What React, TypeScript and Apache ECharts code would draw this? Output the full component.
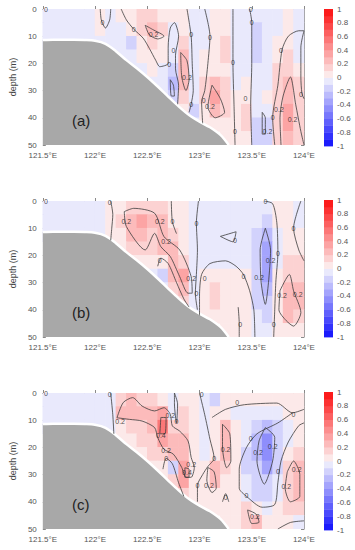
import React, { useEffect, useRef } from "react";
import * as echarts from "echarts";

const N = null;

// cell centres of the gridded field
const lonCenters = [121.55, 121.65, 121.75, 121.85, 121.95, 122.05, 122.15, 122.25, 122.35, 122.45, 122.55, 122.65, 122.75, 122.85, 122.95, 123.05, 123.15, 123.25, 123.35, 123.45, 123.55, 123.65, 123.75, 123.85, 123.95];
const depthCenters = [2.5, 7.5, 12.5, 17.5, 22.5, 27.5, 32.5, 37.5, 42.5, 47.5];

const fieldA = [
  [-0.05, -0.05, -0.05, -0.05, -0.05, 0.05, -0.03, 0.02, 0.08, 0.1, 0.12, 0.08, 0.03, 0.05, -0.05, -0.03, 0.05, 0.08, -0.03, -0.05, -0.08, -0.05, -0.03, 0.02, -0.03],
  [-0.05, -0.05, -0.05, -0.05, -0.05, 0.03, -0.03, -0.02, 0.08, 0.15, 0.22, 0.12, -0.03, 0.08, -0.05, -0.03, 0.05, 0.08, -0.02, -0.05, -0.1, -0.05, -0.02, 0.03, -0.02],
  [-0.05, -0.05, -0.05, -0.05, -0.05, -0.05, -0.05, -0.05, -0.12, 0.05, 0.15, 0.08, -0.05, 0.12, -0.03, -0.02, 0.05, 0.12, -0.02, -0.05, -0.12, -0.05, 0.05, 0.08, -0.05],
  [N, N, N, N, N, N, N, -0.05, -0.08, 0.03, 0.08, 0.03, -0.03, 0.2, -0.03, 0.02, 0.05, 0.1, -0.02, -0.05, -0.1, -0.05, 0.08, 0.12, -0.03],
  [N, N, N, N, N, N, N, N, -0.05, -0.03, 0.02, -0.05, -0.1, 0.25, -0.03, 0.03, 0.05, 0.05, -0.02, -0.03, -0.08, -0.03, 0.1, 0.18, 0.05],
  [N, N, N, N, N, N, N, N, N, N, -0.05, -0.08, -0.3, 0.25, -0.05, 0.1, 0.22, 0.1, -0.02, 0.02, -0.05, -0.03, 0.12, 0.25, 0.1],
  [N, N, N, N, N, N, N, N, N, N, N, -0.05, -0.1, 0.12, -0.08, 0.12, 0.3, 0.15, 0.02, 0.08, -0.03, 0.02, 0.12, 0.28, 0.1],
  [N, N, N, N, N, N, N, N, N, N, N, N, N, 0.05, -0.15, 0.05, 0.2, 0.12, 0.02, 0.15, -0.05, -0.02, 0.15, 0.32, 0.12],
  [N, N, N, N, N, N, N, N, N, N, N, N, N, N, -0.05, 0.03, 0.08, 0.08, 0.02, 0.1, -0.1, -0.2, 0.12, 0.3, 0.15],
  [N, N, N, N, N, N, N, N, N, N, N, N, N, N, N, N, N, 0.05, 0.03, 0.05, -0.15, -0.15, 0.1, 0.25, 0.12],
];

const fieldB = [
  [-0.05, -0.05, -0.05, -0.05, -0.05, -0.05, 0.02, 0.05, 0.12, 0.15, 0.15, 0.12, 0.05, 0.03, -0.03, -0.05, -0.05, -0.05, -0.05, -0.05, -0.05, -0.03, 0.03, 0.05, -0.02],
  [-0.05, -0.05, -0.05, -0.05, -0.05, -0.05, 0.02, 0.1, 0.25, 0.3, 0.22, 0.2, 0.08, 0.03, -0.03, -0.05, -0.05, -0.05, -0.05, -0.05, -0.08, -0.12, 0.03, 0.05, -0.02],
  [-0.05, -0.05, -0.05, -0.05, -0.05, -0.05, 0.02, 0.08, 0.22, 0.25, 0.18, 0.2, 0.15, 0.05, -0.03, -0.05, -0.03, -0.05, -0.05, -0.08, -0.15, -0.3, -0.05, 0.05, 0.02],
  [N, N, N, N, N, N, N, 0.05, 0.1, 0.18, 0.12, 0.22, 0.28, 0.08, -0.03, -0.05, -0.05, -0.05, -0.05, -0.05, -0.15, -0.35, -0.05, 0.05, 0.05],
  [N, N, N, N, N, N, N, N, 0.03, 0.05, 0.05, 0.08, 0.25, 0.15, -0.03, -0.03, -0.05, -0.05, -0.05, -0.05, -0.15, -0.35, -0.05, 0.1, 0.1],
  [N, N, N, N, N, N, N, N, N, N, -0.03, -0.1, 0.2, 0.3, -0.03, 0.05, 0.08, 0.08, 0.05, 0.03, -0.15, -0.35, 0.02, 0.15, 0.15],
  [N, N, N, N, N, N, N, N, N, N, N, -0.05, 0.1, 0.22, -0.05, 0.08, 0.15, 0.08, 0.05, 0.03, -0.12, -0.3, 0.03, 0.25, 0.22],
  [N, N, N, N, N, N, N, N, N, N, N, N, N, 0.1, -0.03, 0.05, 0.12, 0.08, 0.05, 0.03, -0.1, -0.15, 0.05, 0.28, 0.25],
  [N, N, N, N, N, N, N, N, N, N, N, N, N, N, -0.03, 0.03, 0.05, 0.05, 0.02, 0.03, -0.08, -0.1, 0.05, 0.2, 0.15],
  [N, N, N, N, N, N, N, N, N, N, N, N, N, N, N, N, N, 0.03, 0.02, 0.03, -0.05, -0.08, 0.03, 0.08, 0.08],
];

const fieldC = [
  [-0.05, -0.05, -0.05, -0.05, -0.05, -0.05, -0.03, 0.1, 0.2, 0.15, 0.1, 0.08, -0.02, 0.08, 0.02, -0.03, -0.1, 0.03, 0.05, 0.05, 0.05, 0.05, 0.05, 0.05, 0.03],
  [-0.05, -0.05, -0.05, -0.05, -0.05, -0.05, -0.03, 0.2, 0.25, 0.22, 0.2, 0.3, -0.02, 0.15, 0.05, -0.03, 0.02, 0.08, -0.03, -0.05, -0.05, -0.05, -0.03, 0.02, 0.05],
  [-0.05, -0.05, -0.05, -0.05, -0.05, -0.05, -0.03, 0.08, 0.12, 0.12, 0.22, 0.5, 0.18, 0.15, 0.05, -0.03, 0.02, 0.22, 0.05, -0.05, -0.12, -0.25, -0.1, -0.03, 0.03],
  [N, N, N, N, N, N, N, 0.05, 0.08, 0.1, 0.15, 0.3, 0.25, 0.22, 0.05, -0.03, 0.02, 0.25, 0.08, -0.08, -0.25, -0.45, -0.15, -0.03, 0.05],
  [N, N, N, N, N, N, N, N, 0.05, 0.05, 0.1, 0.15, 0.22, 0.25, 0.05, -0.02, 0.02, 0.25, 0.08, -0.1, -0.25, -0.45, -0.15, 0.03, 0.1],
  [N, N, N, N, N, N, N, N, N, N, 0.05, 0.05, -0.2, 0.3, 0.08, 0.03, 0.2, 0.15, 0.03, -0.1, -0.2, -0.35, -0.1, 0.12, 0.25],
  [N, N, N, N, N, N, N, N, N, N, N, 0.05, 0.1, 0.35, 0.05, 0.02, 0.22, 0.08, 0.03, -0.08, -0.15, -0.2, -0.08, 0.15, 0.28],
  [N, N, N, N, N, N, N, N, N, N, N, N, N, 0.15, 0.02, 0.02, 0.08, 0.03, 0.02, -0.05, -0.1, -0.12, -0.05, 0.18, 0.25],
  [N, N, N, N, N, N, N, N, N, N, N, N, N, N, 0.02, 0.02, 0.03, 0.05, 0.05, 0.1, 0.08, -0.03, 0.02, 0.15, 0.15],
  [N, N, N, N, N, N, N, N, N, N, N, N, N, N, N, N, N, 0.05, 0.08, 0.18, 0.2, 0.03, 0.02, 0.02, -0.08],
];

// sea-floor profile (lon, depth)
const bathyLon = [121.5, 121.6, 121.7, 121.8, 121.9, 122.0, 122.1, 122.2, 122.3, 122.4, 122.5, 122.6, 122.7, 122.8, 122.9, 123.0, 123.1, 123.2, 123.28];
const bathyDepth = [11.4, 11.3, 11.3, 11.3, 11.4, 11.7, 12.8, 15.5, 18.8, 21.8, 25, 28.5, 32.2, 35.8, 39, 41.4, 43.5, 46.3, 50];

// contour lines (lon, depth)
const contoursA = [
  [[122.05, 0], [122.06, 4], [122.1, 7], [122.14, 4], [122.15, 0]],
  [[122.25, 0], [122.3, 4], [122.37, 7.4], [122.46, 10.7], [122.52, 14.5], [122.58, 18.8], [122.62, 21.2], [122.7, 20], [122.7, 14], [122.72, 7], [122.76, 5], [122.8, 10], [122.77, 17], [122.77, 22], [122.8, 28], [122.79, 35]],
  [[122.48, 6], [122.55, 7.5], [122.66, 10], [122.6, 11], [122.52, 9.5], [122.48, 6]],
  [[122.82, 16], [122.88, 19], [122.9, 26], [122.87, 30], [122.83, 25], [122.82, 16]],
  [[122.72, 26], [122.75, 28], [122.76, 32], [122.73, 32], [122.72, 26]],
  [[122.88, 0], [122.92, 10], [122.93, 20], [122.94, 30], [122.92, 35], [122.9, 38]],
  [[123.05, 0], [123.1, 10], [123.08, 20], [123.05, 30], [123.02, 34], [123.03, 42]],
  [[123.12, 28], [123.2, 33], [123.24, 38], [123.15, 40], [123.08, 36], [123.12, 28]],
  [[123.32, 0], [123.32, 20], [123.33, 35], [123.34, 50]],
  [[123.48, 0], [123.5, 5], [123.5, 20], [123.49, 35], [123.5, 50]],
  [[123.6, 38], [123.63, 40], [123.63, 46], [123.6, 46], [123.6, 38]],
  [[123.72, 50], [123.7, 40], [123.75, 28], [123.79, 15], [123.85, 10], [123.95, 8], [124, 8]],
  [[124, 8], [123.97, 14], [123.97, 25], [123.98, 31], [124, 33]],
  [[123.78, 50], [123.77, 40], [123.8, 32], [123.87, 25], [123.92, 35], [123.97, 45], [124, 50]],
];

const contoursB = [
  [[122.15, 0], [122.17, 5], [122.16, 10], [122.15, 14.5]],
  [[122.28, 3.9], [122.37, 2.7], [122.57, 4.5], [122.66, 13.1], [122.81, 18], [122.92, 27.8], [122.93, 33.9], [122.89, 33.9], [122.81, 27.8], [122.72, 20.4], [122.63, 16.8], [122.57, 11.9], [122.48, 18], [122.3, 9.4], [122.28, 3.9]],
  [[122.99, 0], [122.97, 8], [122.98, 18], [122.97, 27], [122.96, 34], [122.98, 40]],
  [[122.73, 0], [122.74, 7.6], [122.78, 12]],
  [[122.6, 24], [122.63, 21], [122.7, 23], [122.78, 30], [122.85, 36], [122.9, 39]],
  [[123.2, 13], [123.35, 11.3], [123.32, 15], [123.2, 13]],
  [[123.0, 42], [123.0, 35], [123.02, 27], [123.1, 23], [123.25, 22], [123.35, 24], [123.42, 27], [123.48, 33], [123.52, 40], [123.53, 50]],
  [[123.37, 39], [123.38, 45], [123.38, 50]],
  [[123.63, 10], [123.68, 18], [123.66, 30], [123.63, 38], [123.59, 30], [123.58, 18], [123.63, 10]],
  [[123.62, 0], [123.7, 1], [123.74, 8], [123.75, 19], [123.73, 30], [123.72, 40], [123.71, 50]],
  [[123.97, 0], [123.9, 10], [123.95, 18], [124, 22]],
  [[123.77, 33], [123.86, 27], [123.9, 33], [123.97, 41], [123.9, 46], [123.83, 44], [123.76, 40], [123.77, 33]],
];

const contoursC = [
  [[122.15, 0], [122.17, 8], [122.18, 15]],
  [[122.21, 9.1], [122.27, 3.5], [122.36, 1.7], [122.45, 4.8], [122.57, 6.6], [122.66, 5.4], [122.72, 7.8], [122.74, 12.1], [122.81, 14], [122.89, 17.6], [122.92, 23.7], [122.95, 27.4], [122.92, 31], [122.87, 31], [122.83, 27.4], [122.75, 22.5], [122.66, 20.7], [122.6, 16.4], [122.57, 12.7], [122.45, 10.3], [122.33, 9.7], [122.21, 9.1]],
  [[122.63, 9], [122.68, 9], [122.67, 15], [122.62, 15], [122.63, 9]],
  [[122.86, 27.5], [122.9, 28], [122.9, 31], [122.86, 31], [122.86, 27.5]],
  [[122.76, 0], [122.79, 4], [122.78, 11], [122.76, 4], [122.76, 0]],
  [[122.65, 28], [122.68, 24], [122.74, 26], [122.8, 33], [122.85, 38]],
  [[123.0, 0], [123.05, 8], [123.1, 17], [123.14, 24], [123.08, 27], [123.03, 30], [122.98, 34], [122.98, 40]],
  [[123.22, 11.5], [123.29, 15], [123.3, 25], [123.26, 27.5], [123.22, 20], [123.22, 11.5]],
  [[123.08, 27.4], [123.14, 29], [123.16, 35], [123.12, 36.6], [123.07, 32], [123.08, 27.4]],
  [[123.22, 40], [123.25, 37], [123.28, 40]],
  [[123.12, 9], [123.25, 6], [123.43, 4.3], [123.74, 3.7], [123.89, 7.3], [124, 6]],
  [[123.89, 7.3], [123.75, 11], [123.55, 15], [123.45, 20], [123.38, 28], [123.38, 35], [123.45, 38], [123.6, 42], [123.72, 41], [123.75, 33], [123.78, 25], [123.85, 18], [123.95, 12], [124, 11]],
  [[123.63, 12.7], [123.72, 16.3], [123.7, 25], [123.62, 33.5], [123.55, 25], [123.57, 17.6], [123.63, 12.7]],
  [[123.84, 29], [123.9, 25], [123.96, 30], [123.96, 38], [123.87, 40], [123.82, 35], [123.84, 29]],
  [[123.46, 43], [123.54, 44.5], [123.57, 47.5], [123.5, 48], [123.46, 43]],
  [[123.75, 50], [123.87, 47.6], [124, 47]],
];

// contour labels (lon, depth, text)
const labelsA = [
  [121.53, 0, "0"], [122.07, 5, "0"], [122.37, 7.4, "0"], [122.56, 9.5, "0.2"], [122.71, 20.3, "0"], [122.75, 15.3, "0"],
  [122.92, 9.3, "0"], [123.1, 10.5, "0"], [122.88, 25, "0.2"], [123.32, 19.6, "0"], [123.1, 35.9, "0.2"], [122.92, 35, "0"],
  [123.04, 33.8, "0"], [123.49, 0, "0"], [123.5, 4.9, "0"], [123.44, 33, "0"], [123.34, 45, "0"], [123.78, 15.3, "0"],
  [123.97, 31.3, "0"], [123.76, 37, "0.2"], [123.89, 40.5, "0.2"], [123.7, 40, "0"], [123.65, 45, "0.2"],
];
const labelsB = [
  [121.53, 0, "0"], [122.14, 0.6, "0"], [122.3, 7.7, "0.2"], [122.62, 7.7, "0.2"], [122.74, 7.6, "0"], [122.68, 14.9, "0.2"],
  [122.97, 8.2, "0"], [122.62, 21.9, "0"], [122.92, 28.4, "0.2"], [122.97, 33.9, "0"], [123.05, 28.4, "0"], [123.34, 14.4, "0"],
  [123.42, 27.8, "0"], [123.39, 45.5, "0"], [123.63, 0, "0"], [123.57, 28, "0.2"], [123.68, 22, "0.2"], [123.75, 19.2, "0"],
  [123.71, 45.5, "0"], [123.9, 10, "0"], [123.79, 34.9, "0.2"], [123.94, 34.3, "0.2"],
];
const labelsC = [
  [121.53, 0, "0"], [122.14, 0.7, "0"], [122.24, 10.3, "0.2"], [122.72, 8.2, "0.2"], [122.63, 15.8, "0.4"], [122.78, 10.5, "0"],
  [122.68, 21.2, "0.2"], [122.68, 24.2, "0"], [122.92, 26.4, "0.2"], [122.88, 29.4, "0.4"], [122.98, 33.9, "0"], [123.14, 23.9, "0"],
  [123.25, 20.8, "0.2"], [123.09, 33.9, "0.2"], [123.25, 38.4, "0"], [123.02, 0.7, "0"], [123.36, 3.5, "0"], [123.9, 7.8, "0"],
  [123.49, 16.6, "0"], [123.56, 22, "0.2"], [123.7, 19.5, "0.2"], [123.45, 37.8, "0"], [123.75, 28.9, "0"], [123.83, 34.3, "0.2"],
  [123.93, 28.2, "0.2"], [123.53, 45.3, "0.2"],
];

const panelNames = ["(a)", "(b)", "(c)"];
const colorLevels = [-0.95, -0.85, -0.75, -0.65, -0.55, -0.45, -0.35, -0.25, -0.15, -0.05, 0.05, 0.15, 0.25, 0.35, 0.45, 0.55, 0.65, 0.75, 0.85, 0.95];

function levelColor(c: number) {
  const t = 0.04 + 0.9 * Math.abs(c);
  const ch = Math.round(255 * (1 - t));
  return c > 0 ? `rgb(252,${ch},${ch})` : `rgb(${ch},${ch},252)`;
}

export default function App() {
  const ref = useRef<HTMLDivElement>(null);
  useEffect(() => {
    if (!ref.current) return;
    const chart = echarts.init(ref.current, null, { renderer: "svg" });
    const fields = [fieldA, fieldB, fieldC];
    const contours = [contoursA, contoursB, contoursC];
    const labels = [labelsA, labelsB, labelsC];
    const plotTops = [9, 201, 393];
    const plotH = 136;
    const cbTops = [9, 200, 392];
    const cbH = [137, 137, 138];
    const halfW = (lonCenters[1] - lonCenters[0]) / 2;
    const halfH = (depthCenters[1] - depthCenters[0]) / 2;
    const font = "Liberation Sans, Arial, sans-serif";
    const axisColor = "#8a8a8a";
    const labelColor = "#555";

    const grid: any[] = [];
    const xAxis: any[] = [];
    const yAxis: any[] = [];
    const series: any[] = [];
    const colorSeries: number[] = [];

    for (let p = 0; p < 3; p++) {
      grid.push({ left: 29, top: plotTops[p], width: 275, height: plotH });
      const xBase = {
        type: "value", gridIndex: p, min: 121.5, max: 124, interval: 0.5,
        axisLine: { show: true, lineStyle: { color: axisColor, width: 1 } },
        axisTick: { show: true, inside: true, length: 3, lineStyle: { color: axisColor } },
        splitLine: { show: false },
      };
      xAxis.push({
        ...xBase, position: "bottom",
        axisLabel: { show: true, fontSize: 8, color: labelColor, margin: 6, fontFamily: font, formatter: (v: number) => `${v}°E` },
      });
      xAxis.push({ ...xBase, position: "top", axisLabel: { show: false } });
      const yBase = {
        type: "value", gridIndex: p, min: 0, max: 50, interval: 10, inverse: true,
        axisLine: { show: true, lineStyle: { color: axisColor, width: 1 } },
        axisTick: { show: true, inside: true, length: 3, lineStyle: { color: axisColor } },
        splitLine: { show: false },
      };
      yAxis.push({
        ...yBase, position: "left",
        axisLabel: { show: true, fontSize: 8, color: labelColor, margin: 6, fontFamily: font },
        name: "depth (m)", nameLocation: "middle", nameGap: 20,
        nameTextStyle: { fontSize: 9, color: "#444", fontFamily: font },
      });
      yAxis.push({ ...yBase, position: "right", axisLabel: { show: false } });
    }
    for (let p = 0; p < 3; p++) {
      grid.push({ left: 324, top: cbTops[p], width: 9, height: cbH[p] });
      xAxis.push({ type: "value", gridIndex: 3 + p, min: 0, max: 1, show: false });
      yAxis.push({
        type: "value", gridIndex: 3 + p, min: -1, max: 1, interval: 0.2, position: "right",
        axisLine: { show: false }, axisTick: { show: false }, splitLine: { show: false },
        axisLabel: { show: true, fontSize: 8, color: labelColor, margin: 4, fontFamily: font },
      });
    }

    for (let p = 0; p < 3; p++) {
      const data: any[] = [];
      fields[p].forEach((row, r) => {
        row.forEach((v, c) => {
          if (v !== null) data.push([lonCenters[c], depthCenters[r], v]);
        });
      });
      colorSeries.push(series.length);
      series.push({
        type: "custom", xAxisIndex: 2 * p, yAxisIndex: 2 * p, data, silent: true, z: 1,
        renderItem: (params: any, api: any) => {
          const lon = api.value(0);
          const d = api.value(1);
          const a = api.coord([lon - halfW, d - halfH]);
          const b = api.coord([lon + halfW, d + halfH]);
          return {
            type: "rect",
            shape: { x: Math.min(a[0], b[0]) - 0.3, y: Math.min(a[1], b[1]) - 0.3, width: Math.abs(b[0] - a[0]) + 0.6, height: Math.abs(b[1] - a[1]) + 0.6 },
            style: { fill: api.visual("color") },
          };
        },
        clip: true,
      });
      series.push({
        type: "line", xAxisIndex: 2 * p, yAxisIndex: 2 * p, silent: true, z: 2,
        data: bathyLon.map((x, i) => [x, bathyDepth[i]]), symbol: "none", smooth: 0.3,
        lineStyle: { color: "#ffffff", width: 2.5 },
        areaStyle: { color: "#a8a8a8", opacity: 1, origin: "end" },
      });
      contours[p].forEach((line) => {
        series.push({
          type: "line", xAxisIndex: 2 * p, yAxisIndex: 2 * p, silent: true, z: 3,
          data: line, symbol: "none", smooth: 0.25,
          lineStyle: { color: "#3c3c3c", width: 0.8 },
        });
      });
      series.push({
        type: "scatter", xAxisIndex: 2 * p, yAxisIndex: 2 * p, silent: true, z: 4,
        data: labels[p].map((l) => ({ value: [l[0], l[1]], name: l[2] })),
        symbolSize: 1, itemStyle: { color: "rgba(0,0,0,0)" },
        label: { show: true, position: "inside", formatter: "{b}", fontSize: 7, color: "#222", fontFamily: font },
      });
    }
    for (let p = 0; p < 3; p++) {
      colorSeries.push(series.length);
      series.push({
        type: "custom", xAxisIndex: 6 + p, yAxisIndex: 6 + p, silent: true,
        data: colorLevels.map((c) => [0, c, c]),
        renderItem: (params: any, api: any) => {
          const c = api.value(1);
          const a = api.coord([0, c + 0.05]);
          const b = api.coord([1, c - 0.05]);
          return {
            type: "rect",
            shape: { x: a[0], y: a[1], width: b[0] - a[0], height: b[1] - a[1] + 0.4 },
            style: { fill: api.visual("color") },
          };
        },
      });
    }

    const option: any = {
      animation: false,
      backgroundColor: "#ffffff",
      textStyle: { fontFamily: font },
      grid, xAxis, yAxis, series,
      visualMap: {
        type: "piecewise", show: false, dimension: 2, seriesIndex: colorSeries,
        pieces: colorLevels.map((c, i) => (i === colorLevels.length - 1
          ? { gte: c - 0.05, lte: c + 0.05, color: levelColor(c) }
          : { gte: c - 0.05, lt: c + 0.05, color: levelColor(c) })),
      },
      graphic: panelNames.map((t, p) => ({
        type: "text", left: 72, top: plotTops[p] + 104, z: 100, zlevel: 1,
        style: { text: t, fontSize: 15, fill: "#222", fontFamily: font },
      })),
    };
    chart.setOption(option);
    return () => chart.dispose();
  }, []);
  return <div ref={ref} style={{ position: "fixed", left: 0, top: 0, width: 355, height: 550 }} />;
}
